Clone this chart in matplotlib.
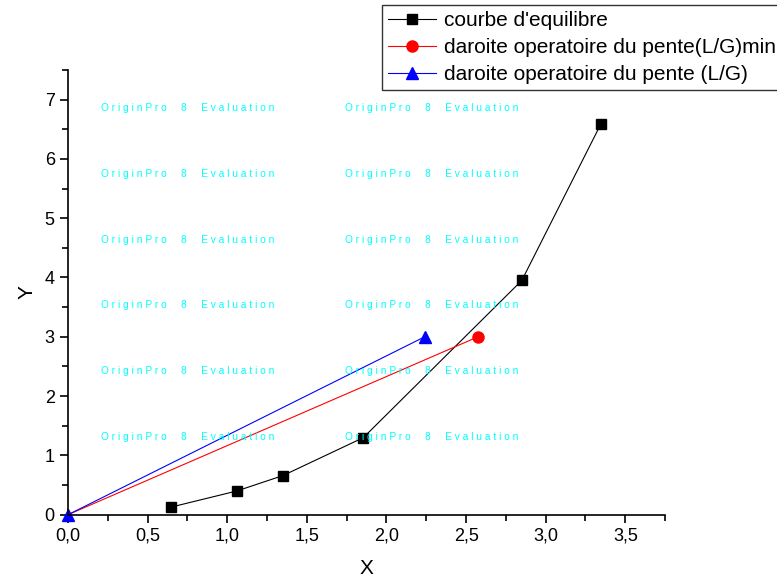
import numpy as np
import matplotlib.pyplot as plt
from matplotlib.ticker import MultipleLocator, FuncFormatter

plt.rcParams['font.family'] = ['Liberation Sans', 'DejaVu Sans']

# equilibrium curve
x_eq = [0.65, 1.06, 1.35, 1.855, 2.85, 3.345]
y_eq = [0.13, 0.40, 0.66, 1.30, 3.95, 6.58]

# operating lines
x_min = [0.0, 2.575]
y_min = [0.0, 3.0]
x_op = [0.0, 2.24]
y_op = [0.0, 3.0]

labels = ["courbe d'equilibre",
          "daroite operatoire du pente(L/G)min",
          "daroite operatoire du pente (L/G)"]

fig = plt.figure(figsize=(7.77, 5.78), dpi=100)
ax = fig.add_axes([0.0875, 0.1095, 0.7685, 0.7695])

l1, = ax.plot(x_eq, y_eq, color='black', lw=0.8, marker='s', ms=7, clip_on=False)
l2, = ax.plot(x_min, y_min, color='red', lw=0.8, marker='o', ms=8, markevery=[1], clip_on=False)
l3, = ax.plot(x_op, y_op, color='blue', lw=0.8, marker='^', ms=9, clip_on=False)

ax.set_xlim(0, 3.75)
ax.set_ylim(0, 7.5)
ax.spines['top'].set_visible(False)
ax.spines['right'].set_visible(False)
ax.spines['left'].set_linewidth(1.2)
ax.spines['bottom'].set_linewidth(1.2)

ax.xaxis.set_major_locator(MultipleLocator(0.5))
ax.xaxis.set_minor_locator(MultipleLocator(0.25))
ax.yaxis.set_major_locator(MultipleLocator(1))
ax.yaxis.set_minor_locator(MultipleLocator(0.5))
ax.xaxis.set_major_formatter(FuncFormatter(lambda v, p: f"{v:.1f}".replace('.', ',')))
ax.yaxis.set_major_formatter(FuncFormatter(lambda v, p: f"{v:.0f}"))
ax.tick_params(which='major', direction='out', length=6, width=1.2, labelsize=13)
ax.tick_params(which='minor', direction='out', length=4, width=1.2)

ax.set_xlabel('X', fontsize=15, labelpad=10)
ax.set_ylabel('Y', fontsize=15, labelpad=6)

# evaluation watermark
wm = ' '.join('OriginPro 8 Evaluation'.replace(' ', '  '))
for yv in [6.86, 5.74, 4.63, 3.53, 2.42, 1.31]:
    for xv in [0.21, 1.74]:
        ax.text(xv, yv, wm, color='#00ffff', fontsize=7.3, ha='left', va='center', zorder=10)

leg = fig.legend([l1, l2, l3], labels, loc='upper left',
                 bbox_to_anchor=(382 / 777, 1 - 5 / 578), fontsize=15,
                 frameon=True, fancybox=False, edgecolor='black',
                 handlelength=2.3, handletextpad=0.4, borderpad=0.3,
                 labelspacing=0.38, borderaxespad=0)
leg.get_frame().set_linewidth(1.0)

fig.savefig('out.png', dpi=100)
